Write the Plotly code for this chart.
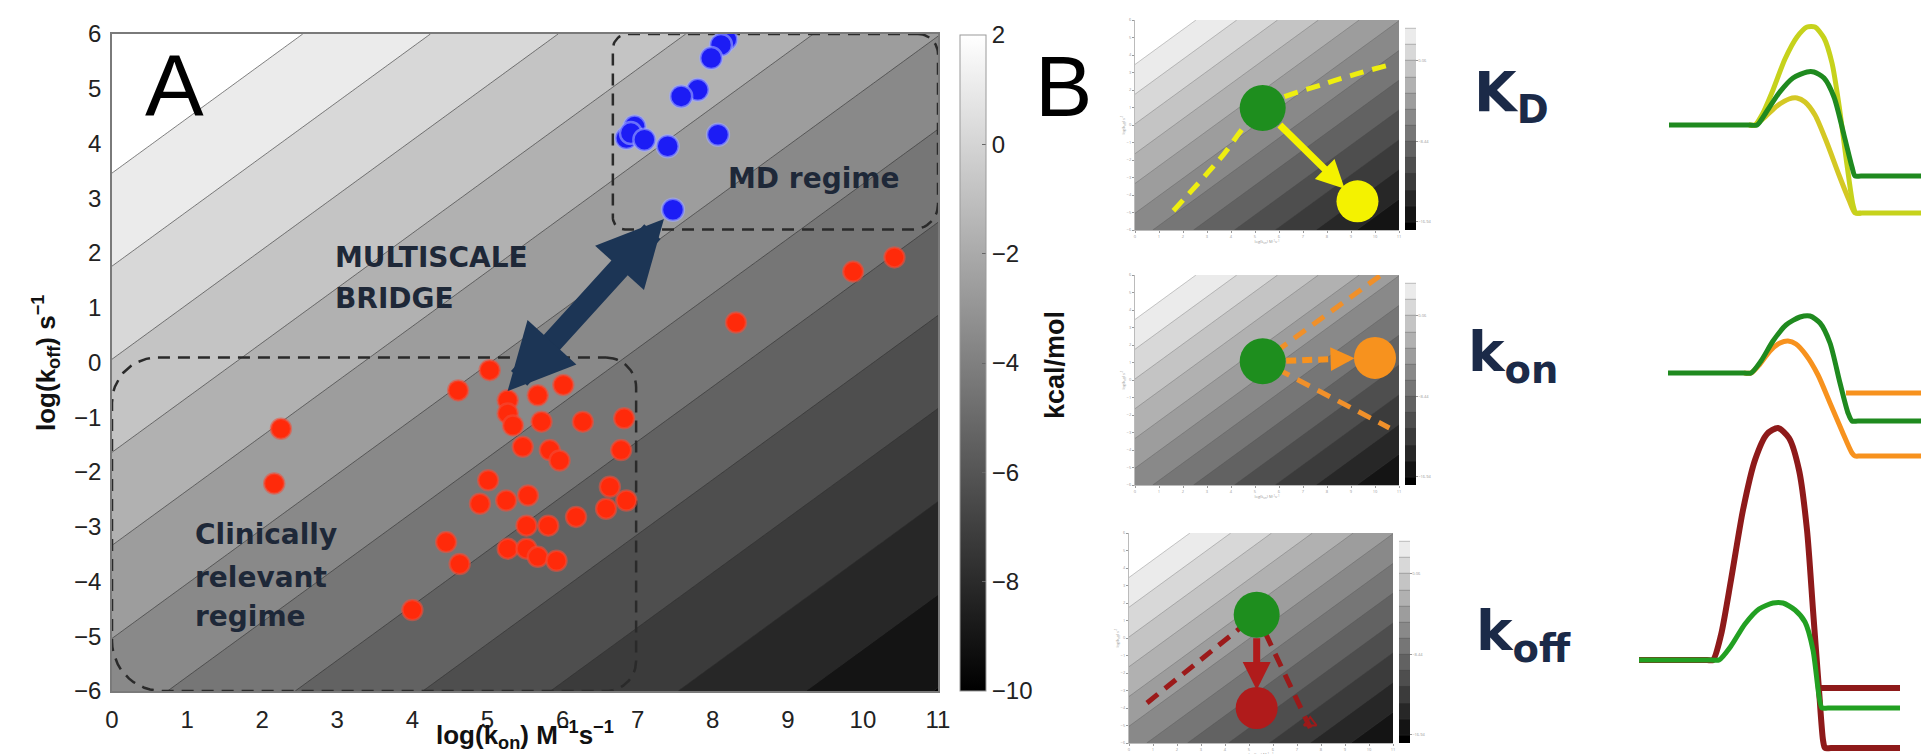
import numpy as np
import plotly.graph_objects as go

W, H = 1929, 754

# ------------------------------------------------------------------ data
KON_TICKS = list(range(0, 12))
KOFF_TICKS = list(range(-6, 7))
KCAL_TICKS = [2, 0, -2, -4, -6, -8, -10]
KCAL_RANGE = (-10, 2)

# iso-affinity contour levels, expressed in log(koff) - log(kon)
ISO_START, ISO_END, ISO_STEP = -16.94, 3.46, 1.70

RED_KON = [5.03, 4.61, 6.01, 5.27, 5.67, 5.27, 5.34, 5.72, 6.27, 6.82, 5.47, 5.83, 5.96,
           6.78, 5.01, 4.90, 5.25, 5.54, 6.63, 6.85, 6.58, 6.18, 5.52, 5.81, 4.45, 4.63,
           5.27, 5.52, 5.67, 5.92, 4.00, 2.25, 2.16, 8.31, 9.87, 10.42]
RED_KOFF = [-0.14, -0.51, -0.41, -0.69, -0.60, -0.93, -1.15, -1.08, -1.08, -1.02, -1.54,
            -1.60, -1.79, -1.60, -2.15, -2.58, -2.52, -2.43, -2.27, -2.52, -2.67, -2.82,
            -2.98, -2.98, -3.28, -3.68, -3.40, -3.40, -3.55, -3.62, -4.52, -1.21, -2.21,
            0.73, 1.66, 1.92]
BLUE_KON = [8.18, 8.11, 7.98, 7.80, 7.58, 6.96, 6.85, 6.91, 7.09, 7.40, 8.07, 7.47]
BLUE_KOFF = [5.90, 5.80, 5.56, 4.98, 4.86, 4.31, 4.10, 4.19, 4.07, 3.95, 4.16, 2.79]

MD_KON, MD_KOFF = (6.67, 11.0), (2.43, 6.0)
CLIN_KON, CLIN_KOFF = (0.0, 6.98), (-6.0, 0.09)
BRIDGE_FROM, BRIDGE_TO = (5.25, -0.55), (7.35, 2.62)

# panel B thumbnails: reference compound (green) and modified compound
MINI_GREEN = [(5.32, 0.97), (5.32, 1.07), (5.32, 1.33)]
MINI_TARGET = [(9.27, -4.36), (10.0, 1.26), (5.32, -4.0)]
MINI_COLORS = ["#f4f200", "#f7921e", "#b01b1b"]
MINI1_DASH_KON = [1.6, 3.5, 5.32, 8.0, 10.5]
MINI1_DASH_KOFF = [-4.9, -2.0, 0.97, 2.4, 3.4]
MINI2_DASH_KON = [10.2, 5.32, 10.6]
MINI2_DASH_KOFF = [5.95, 1.07, -2.74]
MINI3_DASH_KON = [0.75, 5.32, 7.55]
MINI3_DASH_KOFF = [-3.71, 1.33, -5.14]

# energy profiles (reaction coordinate, energy in arbitrary units; 0 = unbound)
KD_GREEN_RC = [0, 80, 88, 98, 110, 124, 138, 145, 155, 165, 175, 183, 186, 192, 268]
KD_GREEN_E = [0, 0, 0, 14, 32, 47, 53, 53, 47, 28, -10, -42, -51, -51, -51]
KD_HIGH_RC = [80, 86, 94, 104, 116, 128, 138, 146, 155, 163, 170, 178, 184, 187, 193, 268]
KD_HIGH_E = [0, 0, 12, 35, 66, 88, 98, 98, 87, 62, 20, -40, -80, -88, -88, -88]
KD_LOW_RC = [80, 86, 96, 108, 120, 128, 136, 146, 158, 170, 180, 186, 192]
KD_LOW_E = [0, 0, 8, 19, 26, 27, 23, 10, -18, -50, -75, -88, -88]

KON_GREEN_RC = [0, 76, 83, 93, 105, 118, 132, 142, 152, 162, 172, 180, 184, 190, 264]
KON_GREEN_E = [0, 0, 0, 12, 32, 48, 56, 57, 50, 30, -10, -40, -48, -48, -48]
KON_ORANGE_RC = [76, 83, 92, 102, 112, 120, 128, 138, 150, 162, 174, 184, 187, 193, 264]
KON_ORANGE_E = [0, 0, 9, 22, 30, 32, 29, 18, -2, -30, -58, -80, -83, -83, -83]
KON_ORANGE_UP_RC = [178, 264]
KON_ORANGE_UP_E = [-20, -20]

KOFF_RED_RC = [0, 68, 74, 82, 92, 104, 116, 128, 139, 150, 160, 168, 174, 180, 184, 186,
               192, 261]
KOFF_RED_E = [0, 0, 0, 25, 80, 150, 200, 226, 232, 222, 190, 130, 50, -30, -80, -88,
              -88, -88]
KOFF_RED_UP_RC = [178, 261]
KOFF_RED_UP_E = [-28, -28]
KOFF_GREEN_RC = [0, 72, 80, 92, 106, 120, 134, 144, 156, 166, 174, 180, 183, 189, 261]
KOFF_GREEN_E = [0, 0, 0, 14, 36, 51, 57, 57, 50, 38, 10, -36, -48, -48, -48]

# ------------------------------------------------------------------ layout helpers
def xdom(a, b):
    return [a / W, b / W]


def ydom(top, bottom):
    return [1 - bottom / H, 1 - top / H]


MAIN_X = (104, 930)
MAIN_Y = (26, 683)
SX = (MAIN_X[1] - MAIN_X[0]) / 11.0
SY = (MAIN_Y[1] - MAIN_Y[0]) / 12.0

GREY = [[0, "#000000"], [1, "#ffffff"]]
TICKFONT = dict(family="Liberation Sans, Arial", size=24, color="#222")
NAVY = "#1e2838"


def rounded_box(x0, x1, y0, y1, r_tl, r_tr, r_br, r_bl, n=14):
    xs, ys = [], []

    def arc(cx, cy, r, a0, a1):
        t = np.linspace(a0, a1, n)
        xs.extend(cx + r / SX * np.cos(t))
        ys.extend(cy + r / SY * np.sin(t))

    arc(x1 - r_tr / SX, y1 - r_tr / SY, r_tr, np.pi / 2, 0)
    arc(x1 - r_br / SX, y0 + r_br / SY, r_br, 0, -np.pi / 2)
    arc(x0 + r_bl / SX, y0 + r_bl / SY, r_bl, -np.pi / 2, -np.pi)
    arc(x0 + r_tl / SX, y1 - r_tl / SY, r_tl, np.pi, np.pi / 2)
    xs.append(xs[0])
    ys.append(ys[0])
    return xs, ys


fig = go.Figure()

# ------------------------------------------------------------------ panel A
gx = np.linspace(0, 11, 111)
gy = np.linspace(-6, 6, 121)
GZ = gy[:, None] - gx[None, :]   # log(KD) surface

contour_common = dict(
    x=gx, y=gy, z=GZ, autocontour=False,
    contours=dict(start=ISO_START, end=ISO_END, size=ISO_STEP, coloring="fill"),
    colorscale=GREY, hoverinfo="skip",
)
fig.add_trace(go.Contour(**contour_common, showscale=False,
                         line=dict(color="rgba(45,45,45,0.75)", width=0.8),
                         xaxis="x", yaxis="y"))

# smooth colorbar (kcal/mol)
fig.add_trace(go.Scatter(
    x=[-5, -5], y=[0, 0], mode="markers", xaxis="x", yaxis="y", hoverinfo="skip",
    showlegend=False,
    marker=dict(size=1, opacity=0, color=list(KCAL_RANGE), cmin=KCAL_RANGE[0],
                cmax=KCAL_RANGE[1], colorscale=GREY, showscale=True,
                colorbar=dict(x=952 / W, xanchor="left", y=1 - (27 + 683) / 2 / H,
                              yanchor="middle", len=(683 - 27) / H, lenmode="fraction",
                              thickness=26, thicknessmode="pixels", xpad=0, ypad=0,
                              outlinewidth=1, outlinecolor="#9a9a9a",
                              tickvals=KCAL_TICKS, ticks="inside", ticklen=4,
                              tickcolor="#666", tickfont=TICKFONT))))

bx, by = rounded_box(CLIN_KON[0], CLIN_KON[1], CLIN_KOFF[0], CLIN_KOFF[1], 45, 30, 30, 50)
fig.add_trace(go.Scatter(x=bx, y=by, mode="lines", xaxis="x", yaxis="y", cliponaxis=False,
                         line=dict(color="#2a2a2a", width=2.5, dash="12px,8px"),
                         hoverinfo="skip", showlegend=False))
bx, by = rounded_box(MD_KON[0], MD_KON[1], MD_KOFF[0], MD_KOFF[1], 15, 20, 25, 12)
fig.add_trace(go.Scatter(x=bx, y=by, mode="lines", xaxis="x", yaxis="y", cliponaxis=False,
                         line=dict(color="#2a2a2a", width=2.5, dash="12px,8px"),
                         hoverinfo="skip", showlegend=False))

fig.add_trace(go.Scatter(x=RED_KON, y=RED_KOFF, mode="markers", xaxis="x", yaxis="y",
                         marker=dict(size=20, color="#ff2a0a",
                                     line=dict(width=2.5, color="rgba(240,80,60,0.55)")),
                         hoverinfo="skip", showlegend=False))
fig.add_trace(go.Scatter(x=BLUE_KON, y=BLUE_KOFF, mode="markers", xaxis="x", yaxis="y",
                         marker=dict(size=22, color="#1c1cf5",
                                     line=dict(width=2.5, color="rgba(160,170,255,0.6)")),
                         hoverinfo="skip", showlegend=False))

# ------------------------------------------------------------------ panel B thumbnails
MINI_BOX = [((1127, 1391), (12, 222)), ((1127, 1391), (267, 477)), ((1121, 1385), (525, 735))]
for i, ((xa, xb), (ya, yb)) in enumerate(MINI_BOX):
    ax = str(i + 2)
    fig.add_trace(go.Contour(
        **contour_common, xaxis="x" + ax, yaxis="y" + ax,
        line=dict(color="rgba(70,70,70,0.6)", width=0.5),
        showscale=True,
        colorbar=dict(x=(xb + 6) / W, xanchor="left", y=1 - (ya + yb) / 2 / H,
                      yanchor="middle", len=(yb - ya) / H, lenmode="fraction",
                      thickness=11, xpad=0, ypad=0, outlinewidth=0,
                      ticks="outside", ticklen=2, tickcolor="#999",
                      tickfont=dict(size=4, color="#999"))))

dash_sets = [(MINI1_DASH_KON, MINI1_DASH_KOFF, "spline"),
             (MINI2_DASH_KON, MINI2_DASH_KOFF, "linear"),
             (MINI3_DASH_KON, MINI3_DASH_KOFF, "linear")]
dash_colors = ["#eeee10", "#f0902a", "#9c1a1a"]
for i, (dk, do, shp) in enumerate(dash_sets):
    ax = str(i + 2)
    fig.add_trace(go.Scatter(x=dk, y=do, mode="lines", xaxis="x" + ax, yaxis="y" + ax,
                             line=dict(color=dash_colors[i], width=5, dash="14px,9px",
                                       shape=shp),
                             hoverinfo="skip", showlegend=False))

# dashed shaft of the kon arrow
fig.add_trace(go.Scatter(x=[6.3, 8.4], y=[1.10, 1.20], mode="lines", xaxis="x3", yaxis="y3",
                         line=dict(color="#f7921e", width=6, dash="10px,6px"),
                         hoverinfo="skip", showlegend=False))
fig.add_trace(go.Scatter(x=[MINI3_DASH_KON[-1]], y=[MINI3_DASH_KOFF[-1] + 0.3], mode="markers",
                         xaxis="x4", yaxis="y4",
                         marker=dict(symbol="triangle-up-open", size=11, color="#9c1a1a",
                                     line=dict(width=2)),
                         hoverinfo="skip", showlegend=False))

for i in range(3):
    ax = str(i + 2)
    gk, go_ = MINI_GREEN[i]
    tk, to = MINI_TARGET[i]
    fig.add_trace(go.Scatter(x=[tk], y=[to], mode="markers", xaxis="x" + ax, yaxis="y" + ax,
                             cliponaxis=False,
                             marker=dict(size=42, color=MINI_COLORS[i]),
                             hoverinfo="skip", showlegend=False))
    fig.add_trace(go.Scatter(x=[gk], y=[go_], mode="markers", xaxis="x" + ax, yaxis="y" + ax,
                             cliponaxis=False,
                             marker=dict(size=46, color="#1e8e1e"),
                             hoverinfo="skip", showlegend=False))

# ------------------------------------------------------------------ energy diagrams
E_AX = [
    (xdom(1640, 1929), ydom(0, 240), [-21, 268], [-123, 117]),
    (xdom(1640, 1929), ydom(270, 470), [-20, 269], [-105, 95]),
    (xdom(1600, 1929), ydom(400, 754), [-31, 298], [-102, 252]),
]
profiles = [
    (5, KD_LOW_RC, KD_LOW_E, "#d4c824", 5),
    (5, KD_HIGH_RC, KD_HIGH_E, "#c6d21c", 5),
    (5, KD_GREEN_RC, KD_GREEN_E, "#1f8a1f", 5),
    (6, KON_ORANGE_UP_RC, KON_ORANGE_UP_E, "#f7921e", 5),
    (6, KON_ORANGE_RC, KON_ORANGE_E, "#f7921e", 5),
    (6, KON_GREEN_RC, KON_GREEN_E, "#1f8a1f", 5),
    (7, KOFF_RED_RC, KOFF_RED_E, "#8e1a1a", 6),
    (7, KOFF_RED_UP_RC, KOFF_RED_UP_E, "#8e1a1a", 6),
    (7, KOFF_GREEN_RC, KOFF_GREEN_E, "#22a022", 5),
]
for axn, rc, e, col, wd in profiles:
    fig.add_trace(go.Scatter(x=rc, y=e, mode="lines", xaxis="x%d" % axn, yaxis="y%d" % axn,
                             line=dict(color=col, width=wd, shape="spline", smoothing=0.7),
                             cliponaxis=False, hoverinfo="skip", showlegend=False))

# ------------------------------------------------------------------ axes
layout = dict(
    width=W, height=H, margin=dict(l=0, r=0, t=0, b=0, autoexpand=False),
    paper_bgcolor="white", plot_bgcolor="rgba(0,0,0,0)", showlegend=False,
    xaxis=dict(domain=xdom(*MAIN_X), range=[0, 11], tickvals=KON_TICKS, showgrid=False,
               zeroline=False, showline=True, mirror=True, linecolor="#7a7a7a",
               linewidth=1.5, ticks="", tickfont=TICKFONT, ticklabelstandoff=6,
               anchor="y", automargin=False),
    yaxis=dict(domain=ydom(*MAIN_Y), range=[-6, 6], tickvals=KOFF_TICKS, showgrid=False,
               zeroline=False, showline=True, mirror=True, linecolor="#7a7a7a",
               linewidth=1.5, ticks="", tickfont=TICKFONT, ticklabelstandoff=4,
               anchor="x", automargin=False),
)
for i, ((xa, xb), (ya, yb)) in enumerate(MINI_BOX):
    n = i + 2
    layout["xaxis%d" % n] = dict(domain=xdom(xa, xb), range=[0, 11], anchor="y%d" % n,
                                 tickvals=KON_TICKS, ticks="outside", ticklen=2,
                                 tickcolor="#999", tickfont=dict(size=4, color="#999"),
                                 showgrid=False, zeroline=False, showline=True,
                                 linecolor="#bbb", linewidth=1, automargin=False,
                                 title=dict(text="log(k<sub>on</sub>) M<sup>-1</sup>s<sup>-1</sup>",
                                            font=dict(size=4, color="#999"), standoff=0))
    layout["yaxis%d" % n] = dict(domain=ydom(ya, yb), range=[-6, 6], anchor="x%d" % n,
                                 tickvals=KOFF_TICKS, ticks="outside", ticklen=2,
                                 tickcolor="#999", tickfont=dict(size=4, color="#999"),
                                 showgrid=False, zeroline=False, showline=True,
                                 linecolor="#bbb", linewidth=1, automargin=False,
                                 title=dict(text="log(k<sub>off</sub>) s<sup>-1</sup>",
                                            font=dict(size=4, color="#999"), standoff=1))
for i, (xd, yd, xr, yr) in enumerate(E_AX):
    n = i + 5
    layout["xaxis%d" % n] = dict(domain=xd, range=xr, visible=False, anchor="y%d" % n,
                                 fixedrange=True)
    layout["yaxis%d" % n] = dict(domain=yd, range=yr, visible=False, anchor="x%d" % n,
                                 fixedrange=True)
fig.update_layout(**layout)


# ------------------------------------------------------------------ annotations
def py_to_koff(py):
    return 6 - (py - MAIN_Y[0]) / SY


def px_to_kon(px):
    return (px - MAIN_X[0]) / SX


LBL = dict(family="DejaVu Sans, Liberation Sans", size=28, color=NAVY)
ann = []


def pap(text, px, py, font, xanchor="center", yanchor="middle", **kw):
    ann.append(dict(text=text, xref="paper", yref="paper", x=px / W, y=1 - py / H,
                    xanchor=xanchor, yanchor=yanchor, showarrow=False, font=font, **kw))


pap("A", 166, 78, dict(family="Liberation Sans, Arial", size=88, color="black"))
pap("B", 1055, 78, dict(family="Liberation Sans, Arial", size=86, color="black"))

for txt, px, py in [("MULTISCALE", 325, 250), ("BRIDGE", 325, 291),
                    ("Clinically", 185, 526), ("relevant", 185, 569), ("regime", 185, 608),
                    ("MD regime", 718, 171)]:
    ann.append(dict(text="<b>%s</b>" % txt, xref="x", yref="y", x=px_to_kon(px),
                    y=py_to_koff(py), xanchor="left", yanchor="middle", showarrow=False,
                    font=LBL))

ann.append(dict(text="", xref="x", yref="y", axref="x", ayref="y",
                x=BRIDGE_TO[0], y=BRIDGE_TO[1], ax=BRIDGE_FROM[0], ay=BRIDGE_FROM[1],
                showarrow=True, arrowhead=2, startarrowhead=2, arrowside="end+start",
                arrowwidth=22, arrowsize=0.6, startarrowsize=0.6, arrowcolor="#1c3555"))

AXT = dict(family="Liberation Sans, Arial", size=26, color="#111")
pap("<b>log(k<sub>on</sub>) M<sup>−1</sup>s<sup>−1</sup></b>", 517, 727, AXT)
pap("<b>log(k<sub>off</sub>) s<sup>−1</sup></b>", 38, 355, AXT, textangle=-90)
pap("<b>kcal/mol</b>", 1047, 357, dict(family="Liberation Sans, Arial", size=27,
                                       color="#111"), textangle=-90)

KLBL = dict(family="DejaVu Sans, Liberation Sans", size=55, color="#1b2a48")
pap("<b>K<sub>D</sub></b>", 1464, 88, KLBL, xanchor="left")
pap("<b>k<sub>on</sub></b>", 1458, 348, KLBL, xanchor="left")
pap("<b>k<sub>off</sub></b>", 1466, 627, KLBL, xanchor="left")

# thumbnail arrows
ann.append(dict(text="", xref="x2", yref="y2", axref="x2", ayref="y2",
                x=MINI_TARGET[0][0], y=MINI_TARGET[0][1],
                ax=MINI_GREEN[0][0], ay=MINI_GREEN[0][1], showarrow=True, arrowhead=2,
                arrowwidth=7, arrowsize=0.8, standoff=18, startstandoff=22,
                arrowcolor="#f4f200"))
ann.append(dict(text="", xref="x3", yref="y3", axref="x3", ayref="y3",
                x=MINI_TARGET[1][0] - 0.85, y=MINI_TARGET[1][1] - 0.02,
                ax=8.3, ay=1.20, showarrow=True, arrowhead=2,
                arrowwidth=6, arrowsize=0.8, arrowcolor="#f7921e"))
ann.append(dict(text="", xref="x4", yref="y4", axref="x4", ayref="y4",
                x=MINI_TARGET[2][0], y=MINI_TARGET[2][1],
                ax=MINI_GREEN[2][0], ay=MINI_GREEN[2][1], showarrow=True, arrowhead=2,
                arrowwidth=7, arrowsize=0.8, standoff=18, startstandoff=22,
                arrowcolor="#b01b1b"))

fig.update_layout(annotations=ann)
fig.write_html("out.html")
